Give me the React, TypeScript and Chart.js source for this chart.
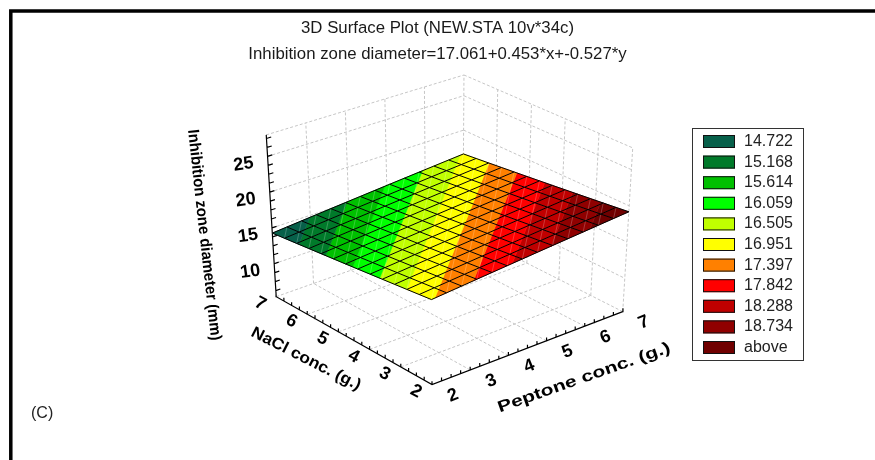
import React, { useEffect, useRef } from "react";
import { Chart, registerables } from "chart.js";

Chart.register(...registerables);

const titleLines = ["3D Surface Plot (NEW.STA 10v*34c)", "Inhibition zone diameter=17.061+0.453*x+-0.527*y"];
const xTitle = "Peptone conc. (g.)";
const yTitle = "NaCl conc. (g.)";
const zTitle = "Inhibition zone diameter (mm)";
const panelNote = "(C)";

const horizontalTicks = [2, 3, 4, 5, 6, 7];
const zTicks = [10, 15, 20, 25];
const zMin = 5.4;
const zMax = 28;

const legendLabels = ["14.722", "15.168", "15.614", "16.059", "16.505", "16.951", "17.397", "17.842", "18.288", "18.734", "above"];
const legendLimits = [14.722, 15.168, 15.614, 16.059, 16.505, 16.951, 17.397, 17.842, 18.288, 18.734, Infinity];
const legendColors = ["#07604a", "#007a2a", "#00c000", "#00ff00", "#c0ff00", "#ffff00", "#ff8000", "#ff0000", "#c00000", "#900000", "#700000"];

// Rows run from NaCl 2 to NaCl 7, columns from Peptone 2 to Peptone 7.
const surfaceValues = [
  [16.913, 17.087, 17.261, 17.436, 17.61, 17.784, 17.958, 18.133, 18.307, 18.481, 18.655, 18.83, 19.004, 19.178],
  [16.71, 16.884, 17.058, 17.233, 17.407, 17.581, 17.755, 17.93, 18.104, 18.278, 18.452, 18.627, 18.801, 18.975],
  [16.508, 16.682, 16.856, 17.031, 17.205, 17.379, 17.553, 17.728, 17.902, 18.076, 18.25, 18.425, 18.599, 18.773],
  [16.305, 16.479, 16.653, 16.828, 17.002, 17.176, 17.35, 17.525, 17.699, 17.873, 18.047, 18.222, 18.396, 18.57],
  [16.102, 16.276, 16.45, 16.625, 16.799, 16.973, 17.147, 17.322, 17.496, 17.67, 17.844, 18.019, 18.193, 18.367],
  [15.9, 16.074, 16.248, 16.423, 16.597, 16.771, 16.945, 17.12, 17.294, 17.468, 17.642, 17.817, 17.991, 18.165],
  [15.697, 15.871, 16.045, 16.22, 16.394, 16.568, 16.742, 16.917, 17.091, 17.265, 17.439, 17.614, 17.788, 17.962],
  [15.494, 15.668, 15.842, 16.017, 16.191, 16.365, 16.539, 16.714, 16.888, 17.062, 17.236, 17.411, 17.585, 17.759],
  [15.291, 15.465, 15.639, 15.814, 15.988, 16.162, 16.336, 16.511, 16.685, 16.859, 17.033, 17.208, 17.382, 17.556],
  [15.089, 15.263, 15.437, 15.612, 15.786, 15.96, 16.134, 16.309, 16.483, 16.657, 16.831, 17.006, 17.18, 17.354],
  [14.886, 15.06, 15.234, 15.409, 15.583, 15.757, 15.931, 16.106, 16.28, 16.454, 16.628, 16.803, 16.977, 17.151],
  [14.683, 14.857, 15.031, 15.206, 15.38, 15.554, 15.728, 15.903, 16.077, 16.251, 16.425, 16.6, 16.774, 16.948],
  [14.481, 14.655, 14.829, 15.004, 15.178, 15.352, 15.526, 15.701, 15.875, 16.049, 16.223, 16.398, 16.572, 16.746],
  [14.278, 14.452, 14.626, 14.801, 14.975, 15.149, 15.323, 15.498, 15.672, 15.846, 16.02, 16.195, 16.369, 16.543],
];

// Camera: where the corners of the plot box land on the page.
const floorFront = [432, 385], floorRight = [623, 312], floorLeft = [276, 297], floorBack = [463, 231];
const topFront = [431, 218], topRight = [633, 148], topLeft = [266, 135], topBack = [464, 75];

const bilinear = (a: number[], b: number[], c: number[], d: number[], u: number, v: number, k: number) =>
  a[k] * (1 - u) * (1 - v) + b[k] * u * (1 - v) + c[k] * (1 - u) * v + d[k] * u * v;

function project(pep: number, nacl: number, z: number) {
  const u = (pep - 2) / 5, v = (nacl - 2) / 5, w = (z - zMin) / (zMax - zMin);
  const at = (k: number) =>
    bilinear(floorFront, floorRight, floorLeft, floorBack, u, v, k) * (1 - w) +
    bilinear(topFront, topRight, topLeft, topBack, u, v, k) * w;
  return { x: at(0), y: at(1) };
}

const GAP = { x: NaN, y: NaN };

function polyline(points: number[][]) {
  return [...points.map(([a, b, c]) => project(a, b, c)), GAP];
}

function clipBand(poly: number[][], limit: number, keepAbove: boolean) {
  const out: number[][] = [];
  const inside = (p: number[]) => (keepAbove ? p[2] >= limit : p[2] <= limit);
  poly.forEach((p, i) => {
    const q = poly[(i + 1) % poly.length];
    if (inside(p)) out.push(p);
    if (inside(p) !== inside(q)) {
      const t = (limit - p[2]) / (q[2] - p[2]);
      out.push([p[0] + (q[0] - p[0]) * t, p[1] + (q[1] - p[1]) * t, limit]);
    }
  });
  return out;
}

function lineDataset(data: any[], color: string, width: number, order: number, dash: number[] = []) {
  return {
    data, showLine: true, fill: false, borderColor: color, borderWidth: width, borderDash: dash,
    pointRadius: 0, pointHoverRadius: 0, order, spanGaps: false, tension: 0,
  };
}

function buildDatasets() {
  const rows = surfaceValues.length, cols = surfaceValues[0].length;
  const pepAt = (i: number) => 2 + (5 * i) / (cols - 1);
  const naclAt = (j: number) => 2 + (5 * j) / (rows - 1);
  const sets: any[] = [];

  const grid: any[] = [];
  const inner = horizontalTicks.slice(1);
  inner.forEach((t) => grid.push(...polyline([[t, 7, zMin], [t, 7, zMax]])));
  horizontalTicks.slice(0, -1).forEach((t) => grid.push(...polyline([[7, t, zMin], [7, t, zMax]])));
  [...zTicks, zMax].forEach((z) => {
    grid.push(...polyline([[2, 7, z], [7, 7, z]]));
    grid.push(...polyline([[7, 7, z], [7, 2, z]]));
  });
  horizontalTicks.slice(1).forEach((t) => {
    grid.push(...polyline([[t, 2, zMin], [t, 7, zMin]]));
    grid.push(...polyline([[2, t, zMin], [7, t, zMin]]));
  });
  sets.push(lineDataset(grid, "#c6c6c6", 1, 5, [3, 2]));

  const axes: any[] = [
    ...polyline([[2, 7, zMax], [2, 7, zMin], [2, 2, zMin], [7, 2, zMin]]),
  ];
  for (let t = 2; t <= 7; t += 0.25) {
    axes.push(...polyline([[t, 2, zMin], [t, 2, zMin + 0.45]]));
    axes.push(...polyline([[2, t, zMin], [2, t, zMin + 0.45]]));
  }
  for (let z = 6.25; z <= zMax; z += 1.25) {
    axes.push(...polyline([[2, 7, z], [2.12, 7, z]]));
  }
  sets.push(lineDataset(axes, "#000000", 1.2, 4));

  for (let j = 0; j < rows - 1; j++) {
    for (let i = 0; i < cols - 1; i++) {
      const quad = [
        [pepAt(i), naclAt(j), surfaceValues[j][i]],
        [pepAt(i + 1), naclAt(j), surfaceValues[j][i + 1]],
        [pepAt(i + 1), naclAt(j + 1), surfaceValues[j + 1][i + 1]],
        [pepAt(i), naclAt(j + 1), surfaceValues[j + 1][i]],
      ];
      legendLimits.forEach((limit, b) => {
        const lower = b === 0 ? -Infinity : legendLimits[b - 1];
        let poly = quad;
        if (Number.isFinite(lower)) poly = clipBand(poly, lower, true);
        if (Number.isFinite(limit)) poly = clipBand(poly, limit, false);
        if (poly.length < 3) return;
        const pts = [...poly, poly[0]].map(([a, c, d]) => project(a, c, d));
        sets.push({
          data: pts, showLine: true, fill: "shape", backgroundColor: legendColors[b], borderColor: legendColors[b],
          borderWidth: 0.6, pointRadius: 0, pointHoverRadius: 0, order: 3, tension: 0,
        });
      });
    }
  }

  const seams: any[] = [];
  for (let j = 0; j < rows - 1; j++) {
    for (let i = 0; i < cols - 1; i++) {
      seams.push(...polyline([
        [pepAt(i), naclAt(j), surfaceValues[j][i]],
        [pepAt(i + 1), naclAt(j + 1), surfaceValues[j + 1][i + 1]],
      ]));
    }
  }
  sets.push(lineDataset(seams, "rgba(255,255,255,0.22)", 1, 2));

  const mesh: any[] = [];
  for (let j = 0; j < rows; j++) {
    mesh.push(...polyline(surfaceValues[j].map((v, i) => [pepAt(i), naclAt(j), v])));
  }
  for (let i = 0; i < cols; i++) {
    mesh.push(...polyline(surfaceValues.map((row, j) => [pepAt(i), naclAt(j), row[i]])));
  }
  sets.push(lineDataset(mesh, "#000000", 1, 1));
  return sets;
}

const decorations = {
  id: "decorations",
  beforeDatasetsDraw(chart: any) {
    const { ctx, width, height } = chart;
    ctx.save();
    ctx.strokeStyle = "#000";
    ctx.lineWidth = 3.5;
    ctx.beginPath();
    ctx.moveTo(10.8, height);
    ctx.lineTo(10.8, 11);
    ctx.lineTo(width, 11);
    ctx.stroke();
    ctx.restore();
  },
  afterDraw(chart: any) {
    const { ctx, scales } = chart;
    const toPx = (p: { x: number; y: number }) => [scales.x.getPixelForValue(p.x), scales.y.getPixelForValue(p.y)];
    const text = (s: string, x: number, y: number, deg: number, font: string, fit?: number) => {
      ctx.save();
      ctx.font = font;
      ctx.fillStyle = "#000";
      ctx.textAlign = "center";
      ctx.textBaseline = "middle";
      ctx.translate(x, y);
      ctx.rotate((deg * Math.PI) / 180);
      if (fit) ctx.scale(fit / ctx.measureText(s).width, 1);
      ctx.fillText(s, 0, 0);
      ctx.restore();
    };
    const tickFont = 'bold 18px "Liberation Sans"';
    const titleFont = 'bold 16px "Liberation Sans"';
    horizontalTicks.forEach((t) => {
      const [ax, ay] = toPx(project(t, 2, zMin));
      text(String(t), ax + 21, ay + 11, -22, tickFont);
      const [bx, by] = toPx(project(2, t, zMin));
      text(String(t), bx - 16, by + 7, 28, tickFont);
    });
    zTicks.forEach((z) => {
      const [x, y] = toPx(project(2, 7, z));
      text(String(z), x - 24, y + 8, -8, tickFont);
    });
    text(zTitle, 204, 235, 83.7, titleFont, 212);
    text(yTitle, 306, 359, 27, titleFont, 121);
    text(xTitle, 584, 378, -19.5, titleFont, 182);

    ctx.save();
    ctx.font = '16px "Liberation Sans"';
    ctx.fillStyle = "#222";
    ctx.textBaseline = "middle";
    ctx.fillText(panelNote, 31, 414);
    ctx.strokeStyle = "#333";
    ctx.lineWidth = 1;
    ctx.strokeRect(692.5, 128.5, 111, 232);
    legendLabels.forEach((label, i) => {
      const y = 135 + i * 20.6;
      ctx.fillStyle = legendColors[i];
      ctx.fillRect(703, y, 32, 13);
      ctx.strokeStyle = "#111";
      ctx.strokeRect(703.5, y + 0.5, 31, 12);
      ctx.fillStyle = "#222";
      ctx.font = '16px "Liberation Sans"';
      ctx.fillText(label, 744, y + 6.5);
    });
    ctx.restore();
  },
};

export default function App() {
  const ref = useRef<HTMLCanvasElement | null>(null);
  useEffect(() => {
    document.body.style.margin = "0";
    const chart = new Chart(ref.current as HTMLCanvasElement, {
      type: "scatter",
      data: { datasets: buildDatasets() },
      options: {
        animation: false,
        responsive: false,
        events: [],
        layout: { padding: 0 },
        scales: {
          x: { type: "linear", display: false, min: 0, max: 875 },
          y: { type: "linear", display: false, reverse: true, min: 0, max: 460 },
        },
        plugins: {
          legend: { display: false },
          tooltip: { enabled: false },
          title: {
            display: true,
            text: titleLines,
            color: "#1a1a1a",
            font: { family: '"Liberation Sans"', size: 16.8, weight: "normal", lineHeight: 1.55 },
            padding: { top: 15, bottom: 0 },
          },
        },
      } as any,
      plugins: [decorations],
    } as any);
    const area = chart.chartArea;
    const o: any = chart.options.scales;
    o.x.min = area.left; o.x.max = area.right;
    o.y.min = area.top; o.y.max = area.bottom;
    chart.update();
    return () => chart.destroy();
  }, []);
  return <canvas ref={ref} width={875} height={460} style={{ display: "block" }} />;
}
